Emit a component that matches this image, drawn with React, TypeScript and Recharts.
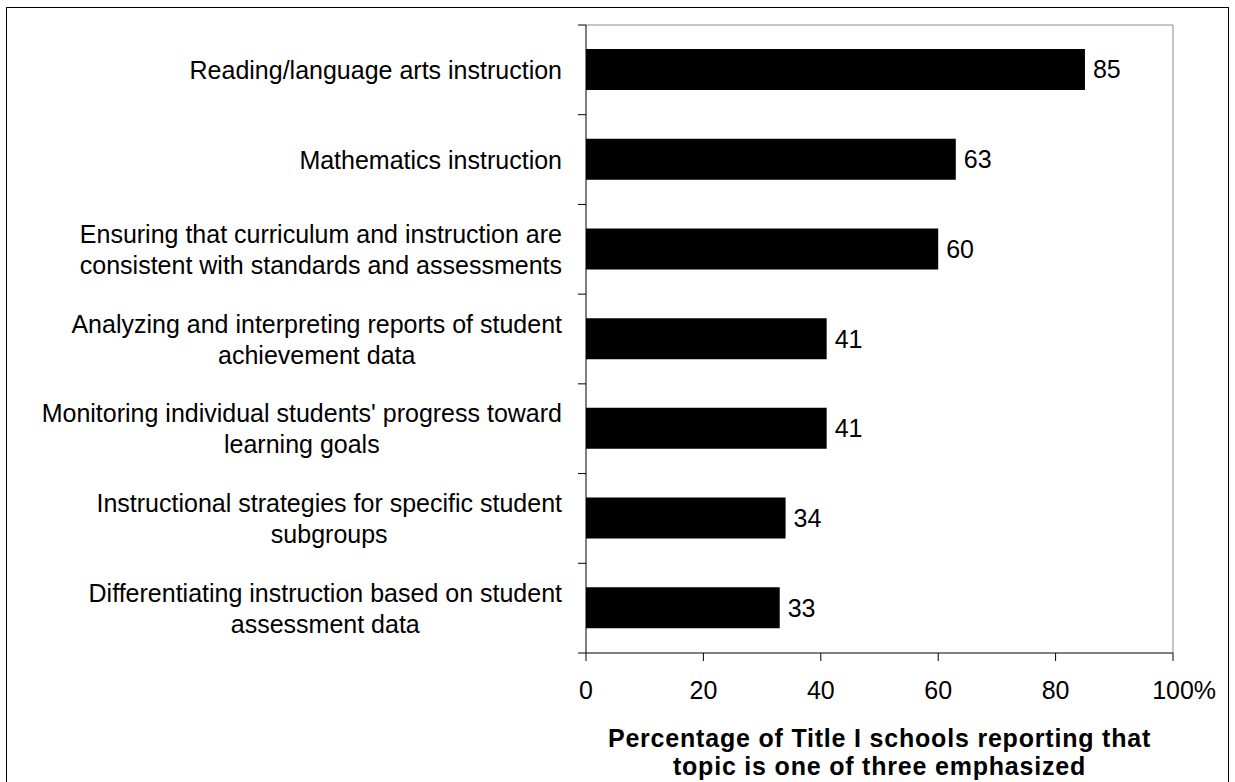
import React from "react";
import { BarChart, Bar, XAxis, YAxis, LabelList, CartesianGrid } from "recharts";

const categories = [
  "Reading/language arts instruction",
  "Mathematics instruction",
  "Ensuring that curriculum and instruction are|consistent with standards and assessments",
  "Analyzing and interpreting reports of student|achievement data",
  "Monitoring individual students' progress toward|learning goals",
  "Instructional strategies for specific student|subgroups",
  "Differentiating instruction based on student|assessment data",
];
const values = [85, 63, 60, 41, 41, 34, 33];
const xTicks = [0, 20, 40, 60, 80, 100];
const titleLines = [
  "Percentage of Title I schools reporting that",
  "topic is one of three emphasized",
];

const data = categories.map((name, i) => ({ name, value: values[i] }));

const FONT = '"Liberation Sans", Arial, Helvetica, sans-serif';
const FS = 25;
const LINE = 31;
const TICK = 8;
const GAP = 16;

let ctx: CanvasRenderingContext2D | null = null;
const measure = (s: string) => {
  if (!ctx) ctx = document.createElement("canvas").getContext("2d");
  if (!ctx) return s.length * FS * 0.5;
  ctx.font = `${FS}px ${FONT}`;
  return ctx.measureText(s).width;
};

// label block right-aligned, lines centred inside it; tick marks sit on band edges
const CategoryTick = (props: any) => {
  const { x, y, payload, index, visibleTicksCount } = props;
  const half = payload.offset || 628 / categories.length / 2;
  const ax = x + TICK + GAP;
  const lines: string[] = String(payload.value).split("|");
  const maxW = Math.max(...lines.map(measure));
  const cx = x - maxW / 2;
  const first = y - ((lines.length - 1) * LINE) / 2 + FS * 0.36;
  const last = index === (visibleTicksCount ?? categories.length) - 1;
  return (
    <g>
      <line x1={ax - TICK} x2={ax} y1={y - half} y2={y - half} stroke="#000" />
      {last && <line x1={ax - TICK} x2={ax} y1={y + half} y2={y + half} stroke="#000" />}
      {lines.map((l, i) => (
        <text
          key={i}
          x={cx}
          y={first + i * LINE}
          textAnchor="middle"
          fontSize={FS}
          fontFamily={FONT}
          fill="#000"
        >
          {l}
        </text>
      ))}
    </g>
  );
};

// number centred on the tick, the "%" sign hangs to the right
const ValueTick = (props: any) => {
  const { x, y, payload } = props;
  const num = String(payload.value);
  const label = payload.value === 100 ? num + "%" : num;
  return (
    <text
      x={x - measure(num) / 2}
      y={y}
      dy="0.71em"
      textAnchor="start"
      fontSize={FS}
      fontFamily={FONT}
      fill="#000"
    >
      {label}
    </text>
  );
};

const AxisTitle = (props: any) => {
  const vb = props.viewBox;
  const cx = vb.x + vb.width / 2;
  return (
    <g>
      {titleLines.map((l, i) => (
        <text
          key={i}
          x={cx}
          y={vb.y + 94 + i * 28}
          textAnchor="middle"
          fontSize={FS}
          fontWeight="bold"
          fontFamily={FONT}
          letterSpacing={0.8}
          fill="#000"
        >
          {l}
        </text>
      ))}
    </g>
  );
};

export default function App() {
  return (
    <div
      style={{
        position: "fixed",
        left: 0,
        top: 0,
        width: 1235,
        height: 782,
        overflow: "hidden",
        background: "#fff",
      }}
    >
      <div
        style={{
          position: "absolute",
          left: 6,
          top: 7,
          width: 1221,
          height: 800,
          border: "1px solid #000",
        }}
      >
        <BarChart
          width={1221}
          height={790}
          data={data}
          layout="vertical"
          margin={{ top: 17, right: 55, bottom: 5, left: 0 }}
        >
          <CartesianGrid
            stroke="#8c8c8c"
            horizontalCoordinatesGenerator={({ offset }: any) => [offset.top]}
            verticalCoordinatesGenerator={({ offset }: any) => [offset.left + offset.width]}
          />
          <XAxis
            type="number"
            domain={[0, 100]}
            ticks={xTicks}
            interval={0}
            tick={<ValueTick />}
            tickSize={TICK}
            tickMargin={20}
            axisLine={{ stroke: "#000" }}
            tickLine={{ stroke: "#000" }}
            height={140}
            label={{ content: AxisTitle }}
          />
          <YAxis
            type="category"
            dataKey="name"
            width={579}
            interval={0}
            tickLine={false}
            tickSize={TICK}
            tickMargin={GAP}
            axisLine={{ stroke: "#000" }}
            tick={<CategoryTick />}
          />
          <Bar dataKey="value" fill="#000" barSize={41} isAnimationActive={false}>
            <LabelList
              dataKey="value"
              position="right"
              offset={8}
              fill="#000"
              fontSize={FS}
              fontFamily={FONT}
            />
          </Bar>
        </BarChart>
      </div>
    </div>
  );
}
